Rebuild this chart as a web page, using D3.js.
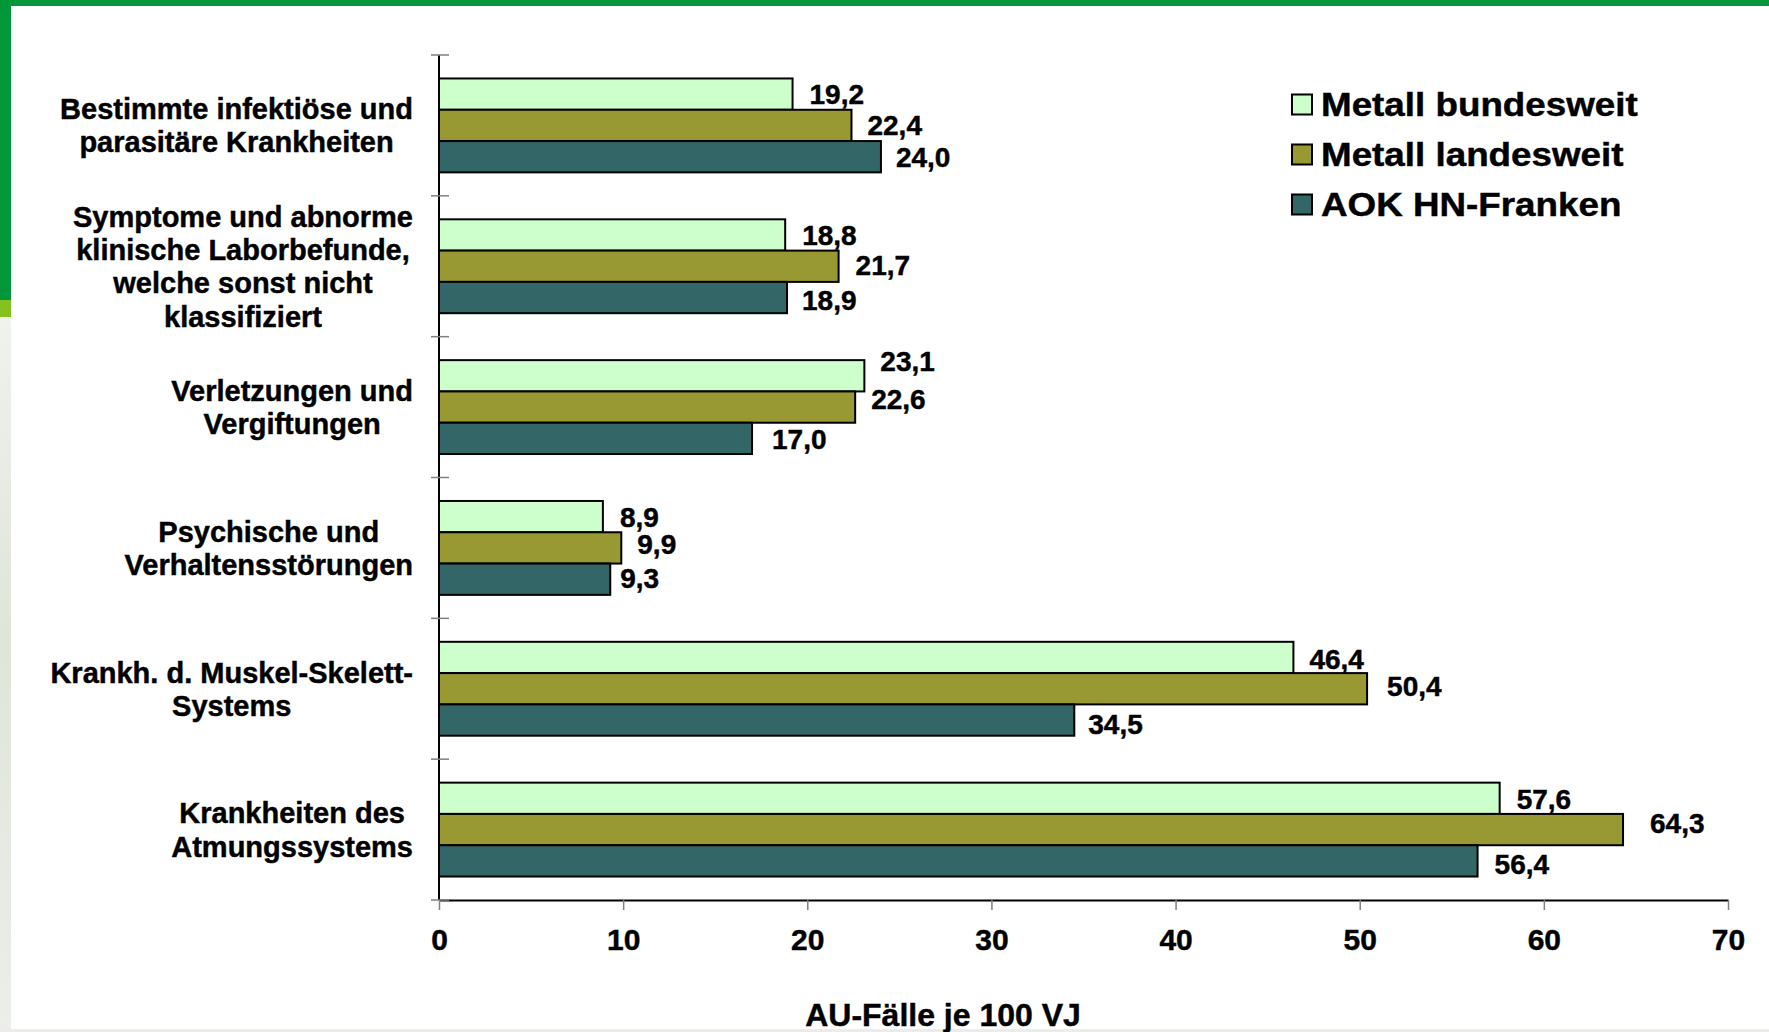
<!DOCTYPE html>
<html>
<head>
<meta charset="utf-8">
<script src="https://cdn.jsdelivr.net/npm/d3@7"></script>
<style>
  html, body { margin: 0; padding: 0; background: #fff; overflow: hidden; }
  svg { display: block; }
  text { font-family: "Liberation Sans", Arial, Helvetica, sans-serif; font-weight: bold; fill: #000; stroke: #000; stroke-width: 0.45px; }
</style>
</head>
<body>
<svg id="chart" width="1769" height="1032"></svg>
<script>
// ---------- DATA ----------
const categories = [
  "Bestimmte infektiöse und\nparasitäre Krankheiten",
  "Symptome und abnorme\nklinische Laborbefunde,\nwelche sonst nicht\nklassifiziert",
  "Verletzungen und\nVergiftungen",
  "Psychische und\nVerhaltensstörungen",
  "Krankh. d. Muskel-Skelett-\nSystems",
  "Krankheiten des\nAtmungssystems"
];
const series = ["Metall bundesweit", "Metall landesweit", "AOK HN-Franken"];
const metallBundesweit = [19.2, 18.8, 23.1, 8.9, 46.4, 57.6];
const metallLandesweit = [22.4, 21.7, 22.6, 9.9, 50.4, 64.3];
const aokHNFranken     = [24.0, 18.9, 17.0, 9.3, 34.5, 56.4];
const xTicks = [0, 10, 20, 30, 40, 50, 60, 70];
const axisTitle = "AU-Fälle je 100 VJ";

// ---------- LAYOUT / STYLE ----------
const seriesValues = [metallBundesweit, metallLandesweit, aokHNFranken];
const colors = ["#CCFFCC", "#999933", "#336666"];
// manual label nudges [dx, dy] relative to bar end / bar centre
const labelNudge = [
  [[17, -0.5], [16, 0], [15, 0.5]],
  [[17, 0], [17, -1.5], [15, 2]],
  [[16, -15], [16, -8], [20, 0.5]],
  [[17, 0], [16, -4], [10, -1.5]],
  [[16, 1.5], [20, -2.5], [14, 4]],
  [[17, 1], [27, -6.5], [17, 3]]
];

const W = 1769, H = 1032;
const svg = d3.select("#chart");

// decorative slide frame
const defs = svg.append("defs");
const lg = defs.append("linearGradient").attr("id", "side")
  .attr("x1", 0).attr("y1", 0).attr("x2", 0).attr("y2", 1);
lg.append("stop").attr("offset", "0%").attr("stop-color", "#f0f2ed");
lg.append("stop").attr("offset", "45%").attr("stop-color", "#dfe5d9");
lg.append("stop").attr("offset", "100%").attr("stop-color", "#eceee9");
svg.append("rect").attr("x", 0).attr("y", 0).attr("width", W).attr("height", 6).attr("fill", "#00963a");
svg.append("rect").attr("x", 0).attr("y", 0).attr("width", 11).attr("height", 300).attr("fill", "#00963a");
svg.append("rect").attr("x", 0).attr("y", 300).attr("width", 11).attr("height", 17).attr("fill", "#85c21f");
svg.append("rect").attr("x", 0).attr("y", 317).attr("width", 11).attr("height", H - 317).attr("fill", "url(#side)");
svg.append("rect").attr("x", 0).attr("y", H - 3).attr("width", W).attr("height", 3).attr("fill", "#ececea");

const plot = { left: 439, right: 1728, top: 55, bottom: 900 };
const x = d3.scaleLinear().domain([0, 70]).range([plot.left, plot.right]);
const y = d3.scaleBand().domain(categories).range([plot.top, plot.bottom]).padding(0);
const yi = d3.scaleBand().domain(series).range([0, y.bandwidth()]).paddingInner(0).paddingOuter(0.75);

const locale = d3.formatLocale({ decimal: ",", thousands: ".", grouping: [3], currency: ["", "€"] });
const fmt = locale.format(".1f");

// flattened bar data
const bars = [];
categories.forEach((c, i) => {
  series.forEach((s, j) => {
    bars.push({ cat: c, ser: s, i, j, v: seriesValues[j][i] });
  });
});

// bars
svg.append("g").selectAll("rect").data(bars).join("rect")
  .attr("x", x(0))
  .attr("y", d => y(d.cat) + yi(d.ser))
  .attr("width", d => x(d.v) - x(0))
  .attr("height", yi.bandwidth())
  .attr("fill", d => colors[d.j])
  .attr("stroke", "#000")
  .attr("stroke-width", 2);

// value labels
svg.append("g").selectAll("text").data(bars).join("text")
  .attr("x", d => x(d.v) + labelNudge[d.i][d.j][0])
  .attr("y", d => y(d.cat) + yi(d.ser) + yi.bandwidth() / 2 + labelNudge[d.i][d.j][1] + 10)
  .attr("font-size", 28)
  .text(d => fmt(d.v));

// x axis
const xAxis = d3.axisBottom(x).tickValues(xTicks).tickSize(10).tickSizeOuter(0)
  .tickPadding(18.7).tickFormat(d3.format("d"));
const gx = svg.append("g").attr("transform", `translate(0,${plot.bottom})`).call(xAxis);
gx.select(".domain").attr("stroke", "#000").attr("stroke-width", 2);
gx.selectAll(".tick line").attr("stroke", "#808080").attr("stroke-width", 1.5);
gx.selectAll(".tick text").attr("font-size", 30).attr("fill", "#000")
  .style("font-family", "'Liberation Sans', Arial, sans-serif").style("font-weight", "bold");

// y axis line and ticks
svg.append("line").attr("x1", plot.left).attr("x2", plot.left)
  .attr("y1", plot.top).attr("y2", plot.bottom).attr("stroke", "#000").attr("stroke-width", 2);
const boundaries = categories.map(c => y(c)).concat([plot.bottom]);
svg.append("g").selectAll("line").data(boundaries).join("line")
  .attr("x1", plot.left - 8).attr("x2", plot.left + 10)
  .attr("y1", d => d).attr("y2", d => d)
  .attr("stroke", "#808080").attr("stroke-width", 1.5);

// category labels (multi-line, centred in a block right-aligned near the axis)
const lineH = 33.3, catFont = 29, blockRight = 413;
categories.forEach(c => {
  const lines = c.split("\n");
  const g = svg.append("g");
  const cy = y(c) + y.bandwidth() / 2;
  const first = cy - (lines.length - 1) * lineH / 2 + 10.4;
  const texts = lines.map((l, k) => g.append("text")
    .attr("font-size", catFont).attr("text-anchor", "middle")
    .attr("y", first + k * lineH).text(l));
  const maxW = d3.max(texts, t => t.node().getComputedTextLength());
  texts.forEach(t => t.attr("x", blockRight - maxW / 2));
});

// legend
const legend = svg.append("g");
series.forEach((s, j) => {
  legend.append("rect").attr("x", 1292).attr("y", 94.5 + j * 50)
    .attr("width", 20).attr("height", 20)
    .attr("fill", colors[j]).attr("stroke", "#000").attr("stroke-width", 2);
  legend.append("text")
    .attr("transform", `translate(1321,${116 + j * 50}) scale(1.115,1)`)
    .attr("font-size", 33).text(s);
});

// axis title
svg.append("text").attr("x", 943).attr("y", 1026).attr("text-anchor", "middle")
  .attr("font-size", 32).text(axisTitle);
</script>
</body>
</html>
